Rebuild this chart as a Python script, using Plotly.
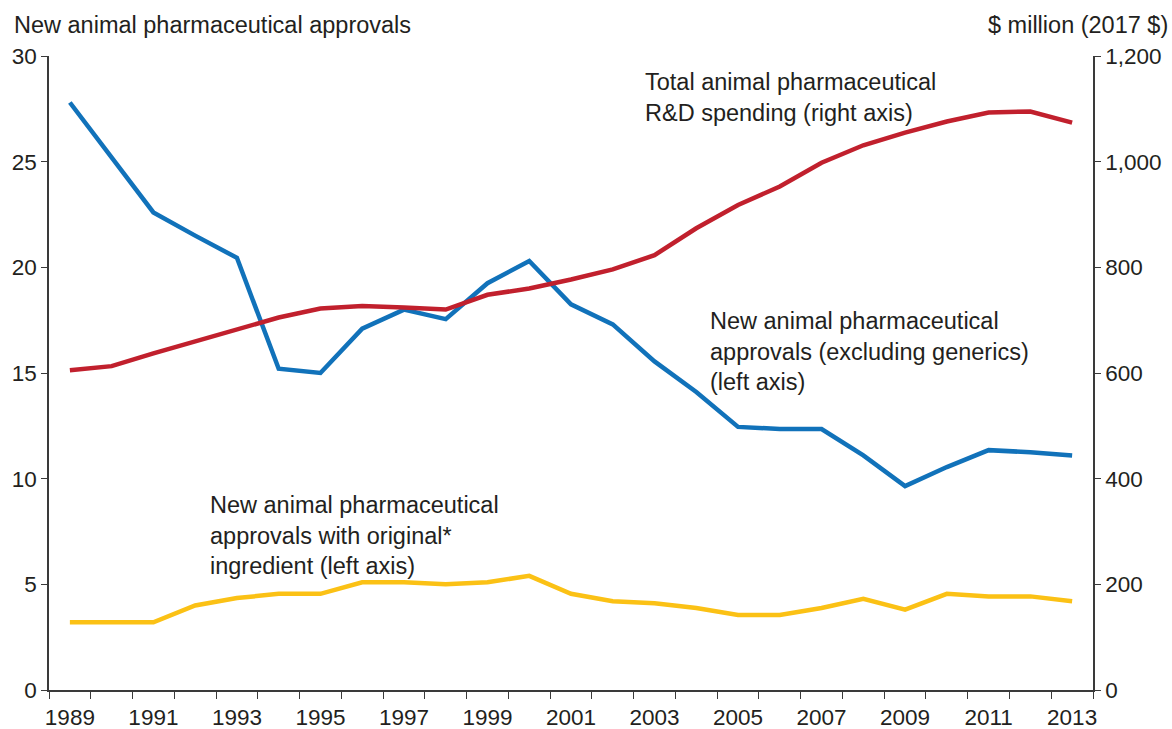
import plotly.graph_objects as go

years = list(range(1989, 2014))
approvals_excl_generics = [27.8, 25.2, 22.6, 21.5, 20.45, 15.2, 15.0, 17.1, 18.0, 17.55,
                           19.25, 20.3, 18.25, 17.3, 15.55, 14.1, 12.45, 12.35, 12.35, 11.1,
                           9.65, 10.55, 11.35, 11.25, 11.1]
original_ingredient = [3.2, 3.2, 3.2, 4.0, 4.35, 4.55, 4.55, 5.1, 5.1, 5.0,
                       5.1, 5.4, 4.55, 4.2, 4.1, 3.88, 3.55, 3.55, 3.88, 4.32,
                       3.8, 4.55, 4.43, 4.43, 4.2]
rd_spending = [605, 613, 637, 659, 681, 705, 722, 727, 724, 720,
               748, 760, 777, 796, 823, 874, 918, 953, 998, 1031,
               1055, 1076, 1093, 1095, 1074]

x_labels = [str(y) for y in range(1989, 2014, 2)]
left_ticks = [0, 5, 10, 15, 20, 25, 30]
right_ticks = [0, 200, 400, 600, 800, 1000, 1200]

BLUE = "#1172BA"
RED = "#C1202D"
YELLOW = "#FBC115"
TXT = "#231f20"
AX = "#3a3a3a"
FONT = "Liberation Sans, Arial, sans-serif"

W, H = 1172, 729
L, R, T, B = 49, 79, 56, 39
pw, ph = W - L - R, H - T - B

def px(xp):
    return (xp - L) / pw

def py(yp):
    return (H - B - yp) / ph

fig = go.Figure()
fig.add_trace(go.Scatter(x=years, y=original_ingredient, mode="lines",
                         line=dict(color=YELLOW, width=4.5), yaxis="y",
                         name="New animal pharmaceutical approvals with original ingredient"))
fig.add_trace(go.Scatter(x=years, y=approvals_excl_generics, mode="lines",
                         line=dict(color=BLUE, width=4.5), yaxis="y",
                         name="New animal pharmaceutical approvals (excluding generics)"))
fig.add_trace(go.Scatter(x=years, y=rd_spending, mode="lines",
                         line=dict(color=RED, width=4.5), yaxis="y2",
                         name="Total animal pharmaceutical R&D spending"))

fig.update_layout(
    width=W, height=H,
    margin=dict(l=L, r=R, t=T, b=B, pad=0),
    paper_bgcolor="white", plot_bgcolor="white",
    showlegend=False,
    font=dict(family=FONT, color=TXT, size=22.5),
    xaxis=dict(range=[1988.5, 2013.5], showgrid=False, zeroline=False,
               showline=True, linecolor=AX, linewidth=1.5, automargin=False,
               tickmode="array", tickvals=[int(v) for v in x_labels], ticktext=x_labels,
               ticks="", ticklabelstandoff=6,
               tickfont=dict(size=22.5, color=TXT, family=FONT),
               minor=dict(tickmode="linear", tick0=1988.5, dtick=1, ticks="outside",
                          ticklen=7, tickwidth=1.3, tickcolor=AX, showgrid=False)),
    yaxis=dict(range=[0, 30], showgrid=False, zeroline=False, automargin=False,
               showline=True, linecolor=AX, linewidth=1.5,
               tickmode="array", tickvals=left_ticks, ticks="outside",
               ticklen=6, tickwidth=1.3, tickcolor=AX,
               tickfont=dict(size=22.5, color=TXT, family=FONT)),
    yaxis2=dict(range=[0, 1200], overlaying="y", side="right", showgrid=False,
                zeroline=False, showline=True, linecolor=AX, linewidth=1.5,
                automargin=False,
                tickmode="array", tickvals=right_ticks, tickformat=",",
                ticks="outside", ticklen=6, tickwidth=1.3, tickcolor=AX,
                tickfont=dict(size=22.5, color=TXT, family=FONT)),
)

annos = [
    dict(text="New animal pharmaceutical approvals", x=px(12), y=py(25),
         xanchor="left", yanchor="middle", align="left"),
    dict(text="$ million (2017 $)", x=px(1170), y=py(25),
         xanchor="right", yanchor="middle", align="right"),
    dict(text="Total animal pharmaceutical<br>R&D spending (right axis)",
         x=px(643), y=py(97.5), xanchor="left", yanchor="middle", align="left"),
    dict(text="New animal pharmaceutical<br>approvals (excluding generics)<br>(left axis)",
         x=px(708), y=py(351), xanchor="left", yanchor="middle", align="left"),
    dict(text="New animal pharmaceutical<br>approvals with original*<br>ingredient (left axis)",
         x=px(208), y=py(535), xanchor="left", yanchor="middle", align="left"),
]
for a in annos:
    fig.add_annotation(xref="paper", yref="paper", showarrow=False,
                       font=dict(size=23.5, color=TXT, family=FONT), **a)

fig.write_html(
    "out.html",
    config={"displayModeBar": False},
    post_script="document.body.style.margin='0';document.body.style.padding='0';"
                "document.body.style.overflow='hidden';",
)
